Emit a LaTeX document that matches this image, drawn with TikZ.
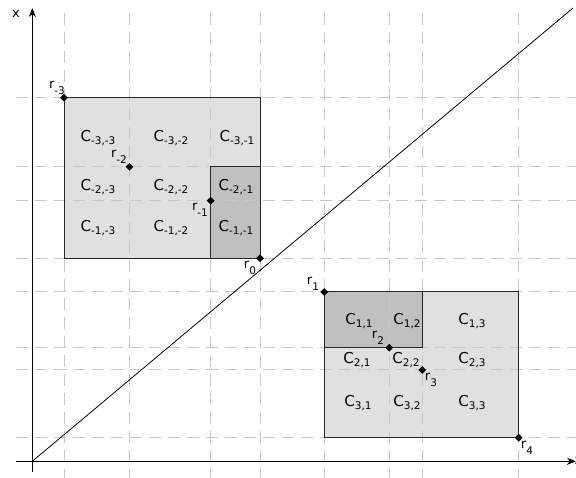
\documentclass[tikz,border=0pt]{standalone}
\usepackage{fontspec}
\setmainfont{DejaVu Sans}
\usetikzlibrary{shapes.geometric,arrows.meta}
\definecolor{gridgray}{RGB}{200,200,200}
\definecolor{lightfill}{RGB}{224,224,224}
\definecolor{darkfill}{RGB}{192,192,192}
\newcommand\Clab[1]{{\fontsize{15}{15}\selectfont C\raisebox{-0.45ex}{\fontsize{10.5}{10.5}\selectfont #1}}}
\newcommand\Rlab[1]{{\fontsize{13}{13}\selectfont r\raisebox{-0.75ex}{\fontsize{10.5}{10.5}\selectfont #1}}}
\tikzset{
  gridline/.style={gridgray, line width=1pt, dash pattern=on 12pt off 7pt},
  boxline/.style={draw=black!85, line width=1pt},
  axisline/.style={black, line width=1.2pt, -{Stealth[length=9pt,width=7pt]}},
  dot/.style={diamond, fill=black, inner sep=0pt, minimum size=8pt},
  clab/.style={inner sep=0pt},
  rlab/.style={inner sep=0pt}
}
\begin{document}
\begin{tikzpicture}[x=1pt,y=-1pt]
\useasboundingbox (0,0) rectangle (576,478);
% fills
\fill[lightfill] (64,97.7) rectangle (260,258.3);
\fill[darkfill] (210.7,166.7) rectangle (260,258.3);
\fill[lightfill] (324.3,292) rectangle (518.7,437.7);
\fill[darkfill] (324.3,292) rectangle (422.3,347.7);
% grid
\foreach \gx in {64,129.5,210.7,260,324.3,389.3,422.3,518.7}
  \draw[gridline] (\gx,13) -- (\gx,478);
\foreach \gy in {97.7,166.7,200.7,258.3,292,347.7,370,437.7}
  \draw[gridline] (16,\gy) -- (576,\gy);
% box outlines
\draw[boxline] (64,97.7) rectangle (260,258.3);
\draw[boxline] (210.7,166.7) rectangle (260,258.3);
\draw[boxline] (324.3,292) rectangle (518.7,437.7);
\draw[boxline] (324.3,292) rectangle (422.3,347.7);
% axes
\coordinate (O) at (32.3,461.3);
\coordinate (xbot) at (32.3,472);
\coordinate (xtop) at (32.3,8);
\coordinate (yleft) at (16,461.3);
\coordinate (yright) at (576,461.3);
\coordinate (diagend) at (573,8);
\draw[axisline] (xbot) -- (xtop);
\draw[axisline] (yleft) -- (yright);
\draw[black, line width=0.8pt] (O) -- (diagend);
\node[inner sep=0pt, font=\fontsize{13}{13}\selectfont] (xlabtop) at (16,14) {x};
\node[inner sep=0pt, anchor=west, font=\fontsize{13}{13}\selectfont] (xlabright) at (574.5,461) {x};
% dots
\node[dot] (rm3) at (64,97.7) {};
\node[dot] (rm2) at (129.5,166.7) {};
\node[dot] (rm1) at (210.7,200.7) {};
\node[dot] (r0) at (260,258.3) {};
\node[dot] (r1) at (324.3,292) {};
\node[dot] (r2) at (389.3,347.7) {};
\node[dot] (r3) at (422.3,370) {};
\node[dot] (r4) at (518.7,437.7) {};
% r labels
\node[rlab] (lrm3) at (57,88) {\Rlab{-3}};
\node[rlab] (lrm2) at (119,157) {\Rlab{-2}};
\node[rlab] (lrm1) at (200,210) {\Rlab{-1}};
\node[rlab] (lr0) at (250,268) {\Rlab{0}};
\node[rlab] (lr1) at (313,284) {\Rlab{1}};
\node[rlab] (lr2) at (378,338) {\Rlab{2}};
\node[rlab] (lr3) at (431,380) {\Rlab{3}};
\node[rlab] (lr4) at (527,448) {\Rlab{4}};
% C labels left box
\node[clab] (cm3m3) at (98,138) {\Clab{-3,-3}};
\node[clab] (cm3m2) at (171,138) {\Clab{-3,-2}};
\node[clab] (cm3m1) at (237,138) {\Clab{-3,-1}};
\node[clab] (cm2m3) at (98,187) {\Clab{-2,-3}};
\node[clab] (cm2m2) at (171,187) {\Clab{-2,-2}};
\node[clab] (cm2m1) at (236,187) {\Clab{-2,-1}};
\node[clab] (cm1m3) at (98,228) {\Clab{-1,-3}};
\node[clab] (cm1m2) at (171,228) {\Clab{-1,-2}};
\node[clab] (cm1m1) at (236,228) {\Clab{-1,-1}};
% C labels right box
\node[clab] (c11) at (359,321) {\Clab{1,1}};
\node[clab] (c12) at (407,321) {\Clab{1,2}};
\node[clab] (c13) at (472,321) {\Clab{1,3}};
\node[clab] (c21) at (357,360) {\Clab{2,1}};
\node[clab] (c22) at (406,360) {\Clab{2,2}};
\node[clab] (c23) at (472,360) {\Clab{2,3}};
\node[clab] (c31) at (358,403) {\Clab{3,1}};
\node[clab] (c32) at (407,403) {\Clab{3,2}};
\node[clab] (c33) at (472,403) {\Clab{3,3}};
\end{tikzpicture}
\end{document}
